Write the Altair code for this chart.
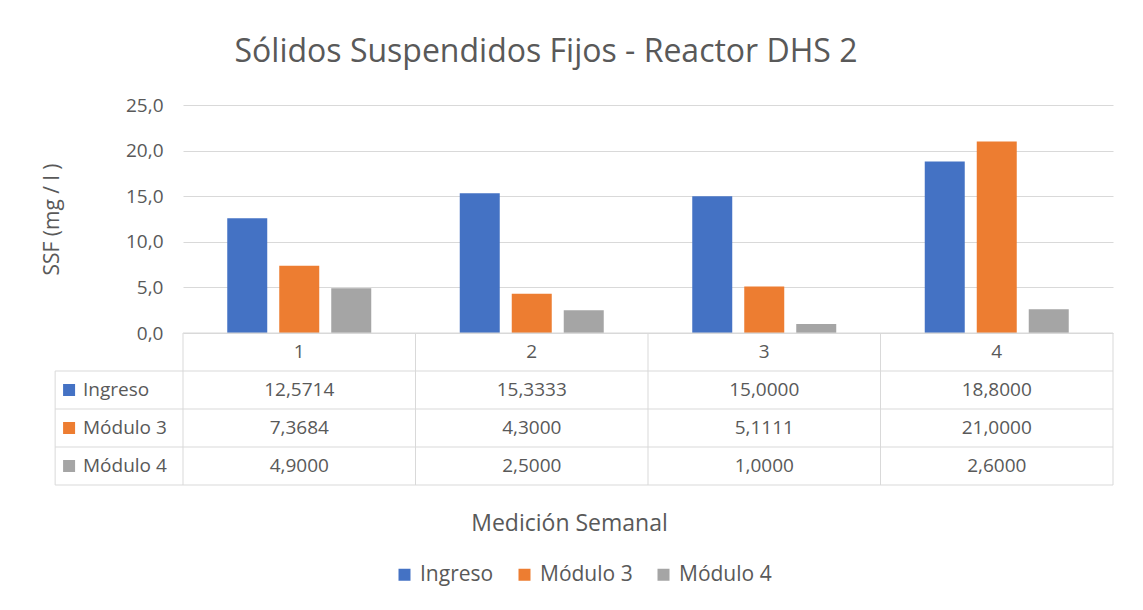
import altair as alt
import pandas as pd

# ---- data ----
weeks = ["1", "2", "3", "4"]
series = ["Ingreso", "Módulo 3", "Módulo 4"]
ingreso = [12.5714, 15.3333, 15.0000, 18.8000]
modulo3 = [7.3684, 4.3000, 5.1111, 21.0000]
modulo4 = [4.9000, 2.5000, 1.0000, 2.6000]
colors = ["#4472C4", "#ED7D31", "#A5A5A5"]
y_ticks = [0, 5, 10, 15, 20, 25]

title_text = "Sólidos Suspendidos Fijos - Reactor DHS 2"
y_title = "SSF (mg / l )"
x_title = "Medición Semanal"

# ---- style / layout ----
FONT = "Open Sans"
GREY = "#595959"
LINE = "#D9D9D9"
W, H = 930, 228
TABLE_H = 152
LEFT_COL = -0.55   # left edge of label column, in column units
SQUARE_X = -0.49
LABEL_X = -0.43

rows = []
for s, vals in zip(series, [ingreso, modulo3, modulo4]):
    for w, v in zip(weeks, vals):
        rows.append({"Semana": w, "Serie": s, "SSF": v})
df = pd.DataFrame(rows)

# table cells
cells = []
for i, w in enumerate(weeks):
    cells.append({"cx": i + 0.5, "cy": 0.5, "txt": w})
for r, (s, vals) in enumerate(zip(series, [ingreso, modulo3, modulo4])):
    for i, v in enumerate(vals):
        cells.append({"cx": i + 0.5, "cy": r + 1.5,
                      "txt": f"{v:.4f}".replace(".", ",")})
cells_df = pd.DataFrame(cells)

labels_df = pd.DataFrame({"Serie": series,
                          "cy": [r + 1.5 for r in range(len(series))],
                          "lx": [LABEL_X] * len(series),
                          "sx": [SQUARE_X] * len(series)})

hl = [{"x": 0, "x2": 4, "y": 0}] + [{"x": LEFT_COL, "x2": 4, "y": k} for k in range(1, 5)]
vl = [{"x": LEFT_COL, "y": 1, "y2": 4}] + [{"x": k, "y": 0, "y2": 4} for k in range(0, 5)]
hl_df = pd.DataFrame(hl)
vl_df = pd.DataFrame(vl)

tx = alt.Scale(domain=[0, 4], range=[0, W], nice=False, zero=False)
ty = alt.Scale(domain=[0, 4], range=[H, H + TABLE_H], nice=False, zero=False)

bars = alt.Chart(df).mark_bar().encode(
    x=alt.X("Semana:N", sort=weeks,
            scale=alt.Scale(paddingInner=0, paddingOuter=0),
            axis=alt.Axis(title=x_title, labels=False, ticks=False, domain=False,
                          titleX=386, titleY=190, titleBaseline="middle",
                          titleFontSize=23, titleFontWeight="normal",
                          titleColor=GREY, titleFont=FONT)),
    xOffset=alt.XOffset("Serie:N", sort=series,
                        scale=alt.Scale(paddingInner=0.2308, paddingOuter=0.851)),
    y=alt.Y("SSF:Q", scale=alt.Scale(domain=[0, 25], nice=False),
            axis=alt.Axis(values=y_ticks,
                          labelExpr="replace(format(datum.value, '.1f'), '.', ',')",
                          title=y_title, grid=True, gridColor=LINE, ticks=False,
                          domain=False, labelFontSize=19, labelColor=GREY,
                          labelFont=FONT, labelPadding=20, titleFontSize=21,
                          titleFontWeight="normal", titleColor=GREY,
                          titleFont=FONT, titlePadding=63)),
    color=alt.Color("Serie:N", sort=series,
                    scale=alt.Scale(domain=series, range=colors),
                    legend=alt.Legend(title=None, orient="none", legendX=211,
                                      legendY=459, direction="horizontal",
                                      symbolType="square", symbolSize=144,
                                      symbolStrokeWidth=0, labelFontSize=21,
                                      labelColor=GREY, labelFont=FONT,
                                      labelOffset=5, columnPadding=20, padding=0)),
)

hlines = alt.Chart(hl_df).mark_rule(color=LINE, strokeWidth=1).encode(
    x=alt.X("x:Q", scale=tx, axis=None), x2="x2:Q",
    y=alt.Y("y:Q", scale=ty, axis=None))

vlines = alt.Chart(vl_df).mark_rule(color=LINE, strokeWidth=1).encode(
    x=alt.X("x:Q", scale=tx, axis=None),
    y=alt.Y("y:Q", scale=ty, axis=None), y2="y2:Q")

cell_text = alt.Chart(cells_df).mark_text(
    font=FONT, fontSize=19, color=GREY, align="center", baseline="middle"
).encode(
    x=alt.X("cx:Q", scale=tx, axis=None),
    y=alt.Y("cy:Q", scale=ty, axis=None),
    text="txt:N")

row_labels = alt.Chart(labels_df).mark_text(
    font=FONT, fontSize=19, color=GREY, align="left", baseline="middle"
).encode(
    x=alt.X("lx:Q", scale=tx, axis=None),
    y=alt.Y("cy:Q", scale=ty, axis=None),
    text="Serie:N")

squares = alt.Chart(labels_df).mark_square(size=144, opacity=1, filled=True).encode(
    x=alt.X("sx:Q", scale=tx, axis=None),
    y=alt.Y("cy:Q", scale=ty, axis=None),
    color=alt.Color("Serie:N", sort=series,
                    scale=alt.Scale(domain=series, range=colors), legend=None))

chart = alt.layer(bars, hlines, vlines, cell_text, row_labels, squares).resolve_scale(
    x="independent", y="independent"
).properties(
    width=W, height=H,
    autosize=alt.AutoSizeParams(type="none"),
    padding={"left": 175, "top": 97, "right": 22, "bottom": 269},
    title=alt.TitleParams(title_text, font=FONT, fontSize=32, fontWeight="normal",
                          color=GREY, anchor="middle", dx=-102, offset=27),
).configure_view(stroke=None)

chart.save("out.html", embed_options={"renderer": "svg", "actions": False})
